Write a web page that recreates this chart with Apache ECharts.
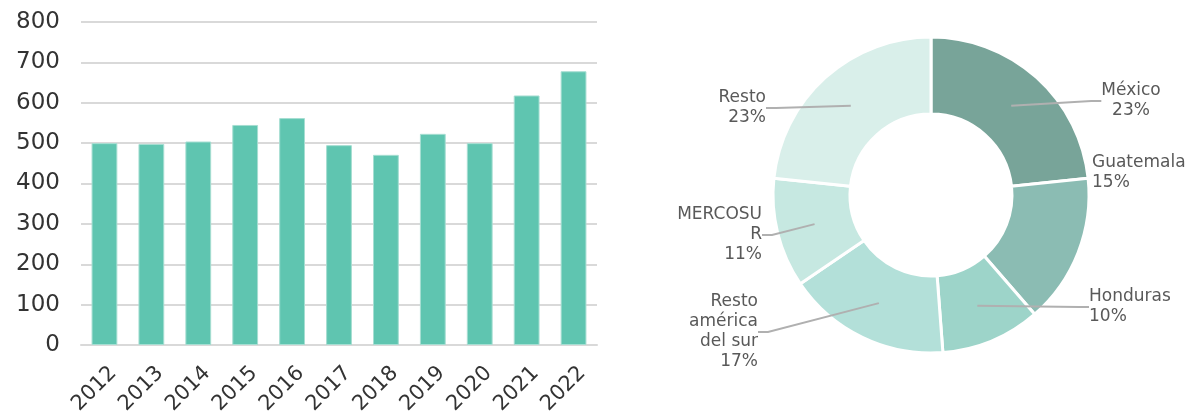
<!DOCTYPE html>
<html>
<head>
<meta charset="utf-8">
<script src="https://cdn.jsdelivr.net/npm/echarts@6/dist/echarts.min.js"></script>
<style>
  html, body { margin: 0; padding: 0; background: #fff; }
  #main { width: 1196px; height: 414px; }
</style>
</head>
<body>
<div id="main"></div>
<script>
// datos barras
var years = ['2012', '2013', '2014', '2015', '2016', '2017', '2018', '2019', '2020', '2021', '2022'];
var totals = [500, 498, 504, 545, 562, 495, 471, 523, 500, 618, 678];
var yTicks = [0, 100, 200, 300, 400, 500, 600, 700, 800];

// datos dona
var regions = ['México', 'Guatemala', 'Honduras', 'Resto américa del sur', 'MERCOSUR', 'Resto'];
var regionLabels = ['México', 'Guatemala', 'Honduras', 'Resto\namérica\ndel sur', 'MERCOSU\nR', 'Resto'];
var shares = [23.3, 15.3, 10.2, 16.7, 11.2, 23.3];
var sliceColors = ['#78a499', '#8bbcb3', '#9dd4c9', '#b3e0d9', '#c6e8e1', '#d9efea'];

var FONT = 'DejaVu Sans';

// posiciones de etiquetas (x, y, align)
var labelPos = [
  [1131, 101, 'center'],
  [1092, 173, 'left'],
  [1089, 307, 'left'],
  [758, 332, 'right'],
  [762, 235, 'right'],
  [766, 108, 'right']
];

var chart = echarts.init(document.getElementById('main'));

var option = {
  animation: false,
  grid: {
    left: 81,
    right: 599,
    top: 22,
    bottom: 69,
    containLabel: false,
    outerBoundsMode: 'none'
  },
  xAxis: {
    type: 'category',
    data: years,
    axisTick: { show: false },
    axisLine: { lineStyle: { color: '#d9d9d9', width: 2 } },
    axisLabel: {
      rotate: 45,
      margin: 16,
      interval: 0,
      verticalAlign: 'top',
      padding: [2, 0, 0, 0],
      fontFamily: FONT,
      fontSize: 21,
      color: '#333'
    }
  },
  yAxis: {
    type: 'value',
    min: yTicks[0],
    max: yTicks[yTicks.length - 1],
    interval: 100,
    axisLine: { show: false },
    axisTick: { show: false },
    splitLine: { lineStyle: { color: '#d9d9d9', width: 2 } },
    axisLabel: {
      margin: 21,
      fontFamily: FONT,
      fontSize: 23,
      color: '#333'
    }
  },
  series: [
    {
      type: 'bar',
      data: totals,
      barWidth: '55%',
      itemStyle: { color: '#5fc5b0', borderColor: '#a6ded2', borderWidth: 1 }
    },
    {
      type: 'pie',
      z: 1,
      center: [931, 195],
      radius: [81, 158],
      startAngle: 90,
      clockwise: true,
      silent: true,
      label: { show: false },
      labelLine: { show: false },
      itemStyle: { borderColor: '#fff', borderWidth: 3 },
      data: regions.map(function (name, i) {
        return { name: name, value: shares[i], itemStyle: { color: sliceColors[i] } };
      })
    },
    {
      // capa transparente solo para las etiquetas (linea parte del centro del anillo)
      type: 'pie',
      z: 5,
      center: [931, 195],
      radius: [0, 120],
      startAngle: 90,
      clockwise: true,
      silent: true,
      itemStyle: { color: 'rgba(0,0,0,0)', borderWidth: 0 },
      label: {
        show: true,
        position: 'outside',
        alignTo: 'none',
        fontFamily: FONT,
        fontSize: 17,
        lineHeight: 20,
        color: '#595959',
        formatter: function (p) {
          return regionLabels[p.dataIndex] + '\n' + Math.round(p.percent) + '%';
        }
      },
      labelLine: {
        show: true,
        length: 4,
        length2: 10,
        lineStyle: { color: '#b0b0b0', width: 2 }
      },
      labelLayout: function (params) {
        var pos = labelPos[params.dataIndex];
        return { x: pos[0], y: pos[1], align: pos[2], verticalAlign: 'middle' };
      },
      data: regions.map(function (name, i) {
        var item = { name: name, value: shares[i] };
        if (name === 'Guatemala') item.labelLine = { show: false };
        return item;
      })
    }
  ]
};

chart.setOption(option);
</script>
</body>
</html>
